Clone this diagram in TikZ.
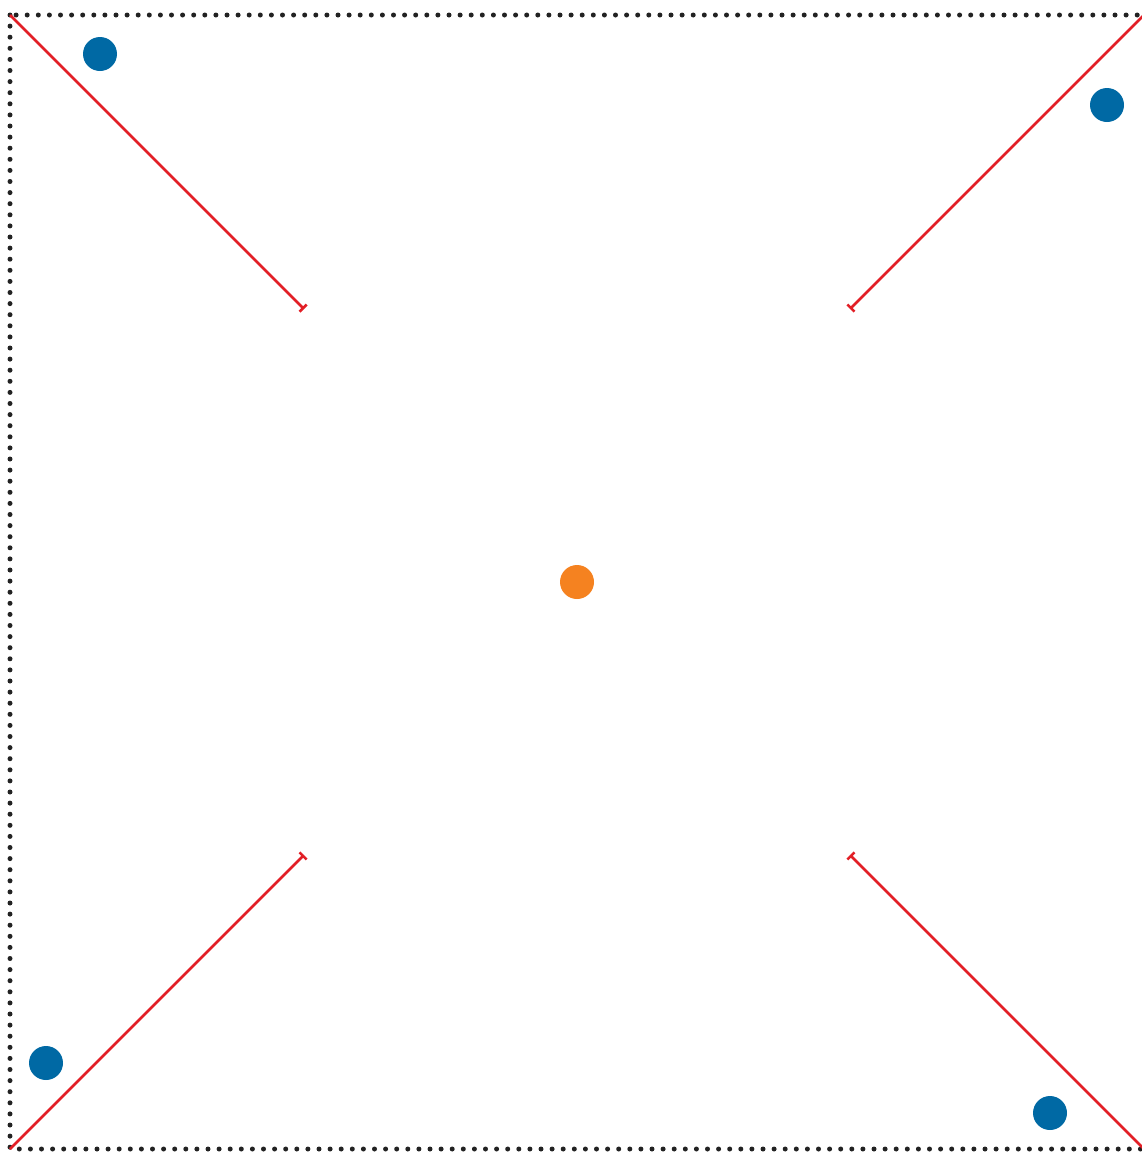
\documentclass[tikz,border=0pt]{standalone}
\usetikzlibrary{arrows.meta}
\definecolor{dotblue}{HTML}{0069A4}
\definecolor{dotorange}{HTML}{F58220}
\definecolor{linered}{HTML}{E21F26}
\definecolor{boxgray}{HTML}{222222}
\begin{document}
\begin{tikzpicture}[x=1pt,y=-1pt,
  frame/.style={draw=boxgray, line width=5pt, line cap=round, dash pattern=on 0pt off 11.1pt},
  ray/.style={draw=linered, line width=2.5pt, -{Bar[width=10pt,line width=2.5pt]}},
  bluedot/.style={circle, fill=dotblue, inner sep=0pt, minimum size=34pt},
  orangedot/.style={circle, fill=dotorange, inner sep=0pt, minimum size=34pt}]
\useasboundingbox (0,0) rectangle (1142,1152);
\clip (0,0) rectangle (1142,1152);
\draw[frame] (10,15) rectangle (1149,1149);
\coordinate (tl) at (10,15);
\coordinate (tr) at (1144,15);
\coordinate (bl) at (10,1149);
\coordinate (br) at (1144,1149);
\coordinate (itl) at (304,309);
\coordinate (itr) at (850,309);
\coordinate (ibl) at (304,855);
\coordinate (ibr) at (850,855);
\draw[ray] (tl) -- (itl);
\draw[ray] (tr) -- (itr);
\draw[ray] (bl) -- (ibl);
\draw[ray] (br) -- (ibr);
\node[orangedot] (c) at (577,582) {};
\node[bluedot] (p1) at (100,54) {};
\node[bluedot] (p2) at (1107,105) {};
\node[bluedot] (p3) at (46,1063) {};
\node[bluedot] (p4) at (1050,1113) {};
\end{tikzpicture}
\end{document}
